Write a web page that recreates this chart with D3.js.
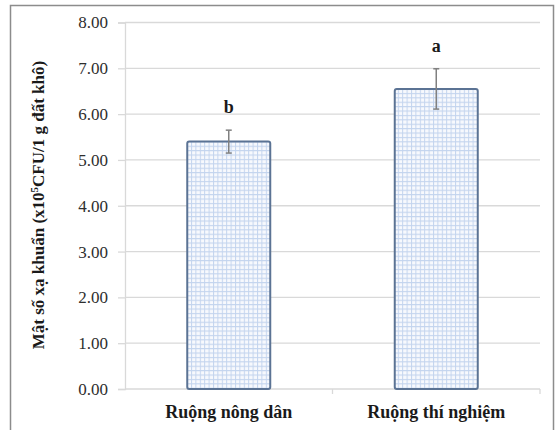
<!DOCTYPE html>
<html>
<head>
<meta charset="utf-8">
<script src="https://cdn.jsdelivr.net/npm/d3@7"></script>
<style>
  body { margin: 0; background: #fff; }
  svg { display: block; font-family: "Liberation Serif", "Times New Roman", serif; }
</style>
</head>
<body>
<svg id="chart"></svg>
<script>
// data
const categories = ["Ruộng nông dân", "Ruộng thí nghiệm"];
const means = [5.40, 6.55];
const errors = [0.25, 0.44];
const letters = ["b", "a"];
const yTicks = [0, 1, 2, 3, 4, 5, 6, 7, 8];

const svgWidth = 556, svgHeight = 430;
const margin = { top: 22.5, right: 16, bottom: 41, left: 125 };
const width = svgWidth - margin.left - margin.right;
const height = svgHeight - margin.top - margin.bottom;
const serif = "'Liberation Serif', 'Times New Roman', serif";

const svg = d3.select("#chart")
    .attr("width", svgWidth)
    .attr("height", svgHeight);

// outer frame (bottom edge runs off the picture)
svg.append("path")
    .attr("d", "M10.5,440 V5.5 H553.5 V440")
    .attr("fill", "none")
    .attr("stroke", "#8c8c8c")
    .attr("stroke-width", 1.5);

// grid pattern for the bars
const defs = svg.append("defs");
const pat = defs.append("pattern")
    .attr("id", "grid")
    .attr("patternUnits", "userSpaceOnUse")
    .attr("width", 4.4)
    .attr("height", 4.4);
pat.append("rect").attr("width", 4.4).attr("height", 4.4).attr("fill", "#f7f9fd");
pat.append("path")
    .attr("d", "M0,0.5 H4.4 M0.5,0 V4.4")
    .attr("stroke", "#c3d4ee")
    .attr("stroke-width", 1);

const g = svg.append("g")
    .attr("transform", "translate(" + margin.left + "," + margin.top + ")");

const x = d3.scaleBand()
    .domain(categories)
    .range([0, width])
    .paddingInner(0.6)
    .paddingOuter(0.3);

const y = d3.scaleLinear()
    .domain([0, 8])
    .range([height, 0]);

// gridlines
g.append("g")
    .selectAll("line")
    .data(yTicks.slice(1))
    .join("line")
    .attr("x1", 0)
    .attr("x2", width)
    .attr("y1", d => y(d))
    .attr("y2", d => y(d))
    .attr("stroke", "#d9d9d9")
    .attr("stroke-width", 1.3);

// y axis
const yAxis = g.append("g")
    .call(d3.axisLeft(y).tickValues(yTicks).tickSize(7).tickPadding(10).tickFormat(d3.format(".2f")))
    .attr("font-family", serif)
    .attr("font-size", 17);
yAxis.select(".domain").attr("stroke", "#d9d9d9").attr("stroke-width", 1.3);
yAxis.selectAll(".tick line").attr("stroke", "#d9d9d9").attr("stroke-width", 1.3);
yAxis.selectAll(".tick text")
    .attr("fill", "#2e2e2e")
    .style("font-family", serif);

// x axis with tick marks between categories
const xAxis = g.append("g")
    .attr("transform", "translate(0," + height + ")");
xAxis.append("line")
    .attr("x1", 0).attr("x2", width)
    .attr("stroke", "#d9d9d9").attr("stroke-width", 1.3);
xAxis.selectAll(".sep")
    .data([width / 2, width])
    .join("line")
    .attr("x1", d => d).attr("x2", d => d)
    .attr("y1", 0).attr("y2", 5)
    .attr("stroke", "#d9d9d9").attr("stroke-width", 1.3);
xAxis.selectAll(".lab")
    .data(categories)
    .join("text")
    .attr("x", d => x(d) + x.bandwidth() / 2)
    .attr("y", 29)
    .attr("text-anchor", "middle")
    .attr("font-weight", "bold")
    .attr("font-size", 18)
    .attr("fill", "#1a1a1a")
    .text(d => d);

// bars
g.selectAll(".bar")
    .data(means)
    .join("rect")
    .attr("x", (d, i) => x(categories[i]))
    .attr("y", d => y(d))
    .attr("width", x.bandwidth())
    .attr("height", d => height - y(d))
    .attr("rx", 2)
    .attr("fill", "url(#grid)")
    .attr("stroke", "#5b7394")
    .attr("stroke-width", 2);

// error bars
const err = g.selectAll(".err")
    .data(means)
    .join("g")
    .attr("transform", (d, i) => "translate(" + (x(categories[i]) + x.bandwidth() / 2) + ",0)");
err.append("line")
    .attr("y1", (d, i) => y(d + errors[i]))
    .attr("y2", (d, i) => y(d - errors[i]))
    .attr("stroke", "#808080").attr("stroke-width", 1.5);
err.append("line")
    .attr("x1", -3).attr("x2", 3)
    .attr("y1", (d, i) => y(d + errors[i]))
    .attr("y2", (d, i) => y(d + errors[i]))
    .attr("stroke", "#808080").attr("stroke-width", 1.5);
err.append("line")
    .attr("x1", -3).attr("x2", 3)
    .attr("y1", (d, i) => y(d - errors[i]))
    .attr("y2", (d, i) => y(d - errors[i]))
    .attr("stroke", "#808080").attr("stroke-width", 1.5);

// significance letters
err.append("text")
    .attr("y", (d, i) => y(d + errors[i]) - 17)
    .attr("text-anchor", "middle")
    .attr("font-weight", "bold")
    .attr("font-size", 18)
    .attr("fill", "#1a1a1a")
    .text((d, i) => letters[i]);

// y axis title
const title = svg.append("text")
    .attr("transform", "translate(44,205) rotate(-90)")
    .attr("text-anchor", "middle")
    .attr("font-weight", "bold")
    .attr("font-size", 17)
    .attr("fill", "#1a1a1a");
title.append("tspan").text("Mật số xạ khuẩn (x10");
title.append("tspan").attr("font-size", 11).attr("dy", -6).text("5");
title.append("tspan").attr("dy", 6).text("CFU/1 g đất khô)");
</script>
</body>
</html>
